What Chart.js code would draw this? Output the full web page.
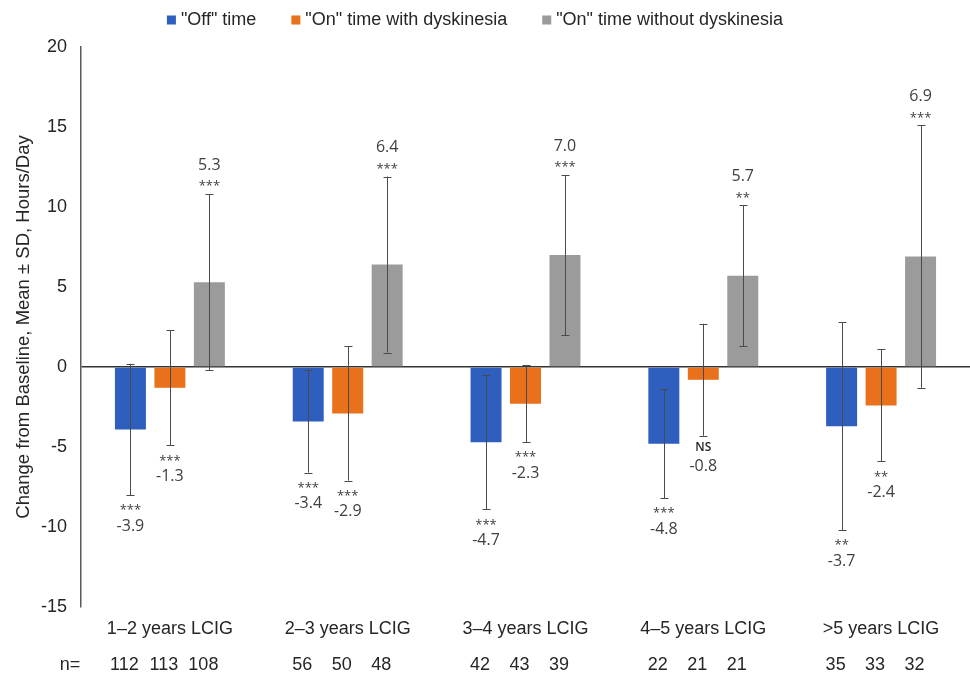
<!DOCTYPE html>
<html>
<head>
<meta charset="utf-8">
<script src="https://cdn.jsdelivr.net/npm/chart.js@4.4.1/dist/chart.umd.min.js"></script>
<style>
  html, body { margin: 0; padding: 0; background: #fff; }
  #wrap { width: 970px; height: 676px; }
</style>
</head>
<body>
<div id="wrap"><canvas id="chart"></canvas></div>
<script>
const categories = ['1–2 years LCIG', '2–3 years LCIG', '3–4 years LCIG', '4–5 years LCIG', '>5 years LCIG'];

const offTime = [-3.9, -3.4, -4.7, -4.8, -3.7];
const offTimeSD = [4.1, 3.2, 4.2, 3.4, 6.5];
const offTimeSig = ['***', '***', '***', '***', '**'];
const offTimeN = [112, 56, 42, 22, 35];

const onWithDysk = [-1.3, -2.9, -2.3, -0.8, -2.4];
const onWithDyskSD = [3.6, 4.2, 2.4, 3.5, 3.5];
const onWithDyskSig = ['***', '***', '***', 'NS', '**'];
const onWithDyskN = [113, 50, 43, 21, 33];

const onNoDysk = [5.3, 6.4, 7.0, 5.7, 6.9];
const onNoDyskSD = [5.5, 5.5, 5.0, 4.4, 8.2];
const onNoDyskSig = ['***', '***', '***', '**', '***'];
const onNoDyskN = [108, 48, 39, 21, 32];

const yTicks = [-15, -10, -5, 0, 5, 10, 15, 20];

const TEXT = '#404040';
const DARK = '#262626';
const ARIAL = "'Liberation Sans', Arial, sans-serif";
const LABEL_FONT = "'Open Sans', sans-serif";

// error bars, significance marks, values and n= row
const errorBarPlugin = {
    id: 'errorBars',
    afterDatasetsDraw(chart) {
        const ctx = chart.ctx;
        const y = chart.scales.y;
        ctx.save();
        chart.data.datasets.forEach(function (ds, i) {
            const meta = chart.getDatasetMeta(i);
            meta.data.forEach(function (bar, j) {
                const v = ds.data[j];
                const sd = ds.sd[j];
                const yTop = y.getPixelForValue(v + sd);
                const yBot = y.getPixelForValue(v - sd);
                const x = Math.round(bar.x) + 0.5;
                ctx.strokeStyle = '#4a4a4a';
                ctx.lineWidth = 1;
                ctx.beginPath();
                ctx.moveTo(x, yTop);
                ctx.lineTo(x, yBot);
                ctx.moveTo(x - 4, Math.round(yTop) + 0.5);
                ctx.lineTo(x + 4, Math.round(yTop) + 0.5);
                ctx.moveTo(x - 4, Math.round(yBot) + 0.5);
                ctx.lineTo(x + 4, Math.round(yBot) + 0.5);
                ctx.stroke();

                ctx.textAlign = 'center';
                ctx.textBaseline = 'middle';
                const sig = ds.sig[j];
                let sigY, valY;
                if (v >= 0) {
                    sigY = yTop - 7.5;
                    valY = yTop - 29;
                } else {
                    sigY = yBot + (sig === 'NS' ? 12 : 15.5);
                    valY = yBot + 31;
                }
                if (sig === 'NS') {
                    ctx.font = "600 12px " + LABEL_FONT;
                    ctx.fillStyle = DARK;
                } else {
                    ctx.font = "13px " + LABEL_FONT;
                    ctx.fillStyle = TEXT;
                }
                ctx.fillText(sig, bar.x, sigY);
                ctx.font = "16px " + LABEL_FONT;
                ctx.fillStyle = TEXT;
                ctx.fillText(v.toFixed(1), bar.x, valY);

                // sample sizes under the category labels
                ctx.font = "18px " + ARIAL;
                ctx.fillStyle = DARK;
                ctx.fillText(String(ds.n[j]), bar.x - 6, 665);
            });
        });
        ctx.font = "18px " + ARIAL;
        ctx.fillStyle = DARK;
        ctx.textAlign = 'center';
        ctx.textBaseline = 'middle';
        ctx.fillText('n=', 70, 665);
        ctx.restore();
    }
};

// legend drawn by hand so the item spacing matches the original
const legendPlugin = {
    id: 'topLegend',
    afterDraw(chart) {
        const ctx = chart.ctx;
        const items = chart.data.datasets;
        ctx.save();
        ctx.font = "18px " + ARIAL;
        ctx.textBaseline = 'middle';
        ctx.textAlign = 'left';
        const gap = 35, boxGap = 14;
        let total = 0;
        items.forEach(function (ds, i) {
            total += boxGap + ctx.measureText(ds.label).width + (i < items.length - 1 ? gap : 0);
        });
        let x = 475 - total / 2;
        const yc = 20;
        items.forEach(function (ds) {
            ctx.fillStyle = ds.backgroundColor;
            ctx.fillRect(x, yc - 4.5, 9, 9);
            ctx.fillStyle = DARK;
            ctx.fillText(ds.label, x + boxGap, yc);
            x += boxGap + ctx.measureText(ds.label).width + gap;
        });
        ctx.restore();
    }
};

const ctx = document.getElementById('chart');
new Chart(ctx, {
    type: 'bar',
    data: {
        labels: categories,
        datasets: [{
            label: '"Off" time',
            data: offTime,
            sd: offTimeSD,
            sig: offTimeSig,
            n: offTimeN,
            backgroundColor: '#2E5FBE'
        }, {
            label: '"On" time with dyskinesia',
            data: onWithDysk,
            sd: onWithDyskSD,
            sig: onWithDyskSig,
            n: onWithDyskN,
            backgroundColor: '#EA711C'
        }, {
            label: '"On" time without dyskinesia',
            data: onNoDysk,
            sd: onNoDyskSD,
            sig: onNoDyskSig,
            n: onNoDyskN,
            backgroundColor: '#9B9B9B'
        }]
    },
    options: {
        responsive: true,
        maintainAspectRatio: false,
        animation: false,
        categoryPercentage: 0.666,
        barPercentage: 0.785,
        layout: {
            padding: { left: 11, right: 0, top: 47, bottom: 29 }
        },
        plugins: {
            legend: { display: false },
            tooltip: { enabled: false }
        },
        scales: {
            x: {
                grid: { display: false, drawTicks: false },
                border: { display: false },
                ticks: {
                    color: DARK,
                    padding: 11,
                    font: { size: 18, family: ARIAL }
                },
                afterFit: function (scale) { scale.height = 40; }
            },
            y: {
                min: -15,
                max: 20,
                afterBuildTicks: function (scale) {
                    scale.ticks = yTicks.map(function (v) { return { value: v }; });
                },
                afterFit: function (scale) { scale.width = 70; },
                grid: {
                    drawTicks: false,
                    lineWidth: 1.5,
                    color: function (c) {
                        return c.tick && c.tick.value === 0 ? '#333333' : 'rgba(0,0,0,0)';
                    }
                },
                border: { display: true, color: '#595959', width: 1.5 },
                ticks: {
                    color: DARK,
                    padding: 14,
                    font: { size: 18, family: ARIAL }
                },
                title: {
                    display: true,
                    text: 'Change from Baseline, Mean ± SD, Hours/Day',
                    color: DARK,
                    padding: { top: 2, bottom: 4 },
                    font: { size: 18.5, family: ARIAL }
                }
            }
        }
    },
    plugins: [errorBarPlugin, legendPlugin]
});
</script>
</body>
</html>
